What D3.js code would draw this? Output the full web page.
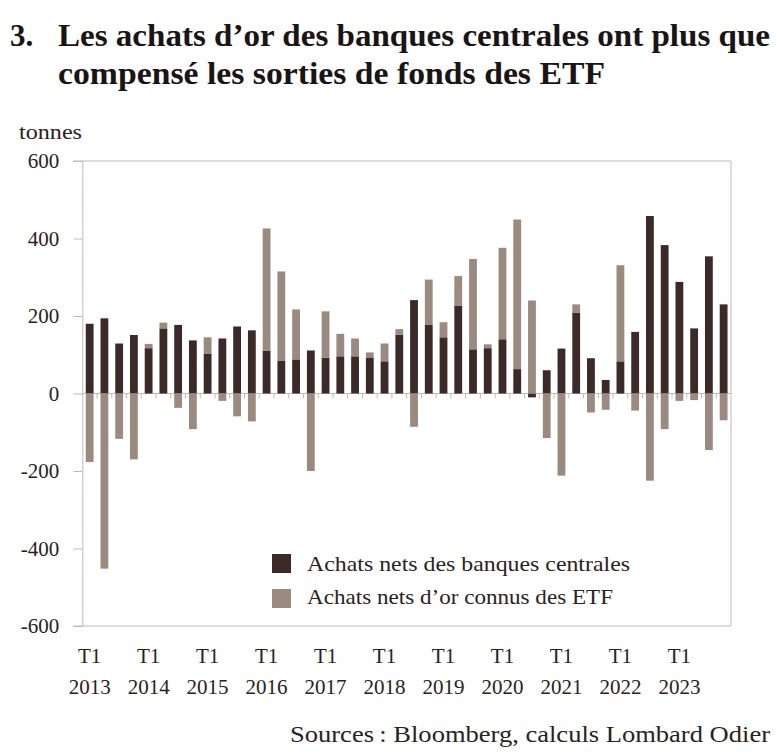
<!DOCTYPE html>
<html><head><meta charset="utf-8">
<script src="https://cdn.jsdelivr.net/npm/d3@7"></script>
<style>body{margin:0;background:#fff;}svg{display:block;}</style>
</head><body>
<svg id="c" width="777" height="756"></svg>
<script>
const years = ["2013","2014","2015","2016","2017","2018","2019","2020","2021","2022","2023"];
const quarters = years.flatMap(y => ["T1","T2","T3","T4"].map(q => q + " " + y));
const centralBanks = [180,194,129,151, 117,168,177,137, 102,142,173,163, 110,84,88,111,
  92,96,96,93, 83,152,241,178, 145,227,114,117, 140,63,-10,60,
  116,209,91,35, 83,159,458,383, 288,168,354,230];
const etf = [-177,-452,-117,-170, 11,15,-37,-92, 43,-19,-59,-72, 316,231,129,-200,
  120,58,46,13, 46,14,-86,116, 39,76,233,10, 236,386,240,-115,
  -212,21,-49,-42, 248,-44,-225,-92, -19,-17,-146,-69];
const yTicks = [600,400,200,0,-200,-400,-600];
const seriesNames = ["Achats nets des banques centrales","Achats nets d\u2019or connus des ETF"];
const colors = ["#3b2a28","#9a8a80"];

const svg = d3.select("#c");
const serif = "'Liberation Serif', 'DejaVu Serif', serif";
const L = 82.3, R = 731, T = 161, B = 626;
const x = d3.scaleBand().domain(quarters).range([L, R]).paddingInner(0.47).paddingOuter(0.235);
const y = d3.scaleLinear().domain([-600, 600]).range([B, T]);
const axisCol = "#c4b8ba";
const txtCol = "#2a2222";

// Title
const title = svg.append("g").attr("font-family", serif).attr("font-weight", "bold").attr("fill", "#1a1414");
title.append("text").attr("x", 10).attr("y", 46).attr("font-size", 31).text("3.");
title.append("text").attr("x", 58).attr("y", 46).attr("font-size", 31)
  .attr("textLength", 712).attr("lengthAdjust", "spacingAndGlyphs")
  .text("Les achats d\u2019or des banques centrales ont plus que");
title.append("text").attr("x", 58).attr("y", 84).attr("font-size", 31)
  .attr("textLength", 547).attr("lengthAdjust", "spacingAndGlyphs")
  .text("compensé les sorties de fonds des ETF");

svg.append("text").attr("x", 19).attr("y", 139).attr("font-family", serif)
  .attr("font-size", 21).attr("fill", txtCol)
  .attr("textLength", 63).attr("lengthAdjust", "spacingAndGlyphs").text("tonnes");

// frame
svg.append("line").attr("x1", 73).attr("x2", R).attr("y1", y(600)).attr("y2", y(600)).attr("stroke", axisCol);
svg.append("line").attr("x1", 73).attr("x2", R).attr("y1", y(-600)).attr("y2", y(-600)).attr("stroke", axisCol);
svg.append("line").attr("x1", R).attr("x2", R).attr("y1", T).attr("y2", B).attr("stroke", axisCol);

// y axis
const yAxis = d3.axisLeft(y).tickValues(yTicks).tickSize(9).tickPadding(14).tickFormat(d3.format("d"));
const ya = svg.append("g").attr("transform", `translate(${L},0)`).call(yAxis);
ya.select(".domain").attr("stroke", axisCol);
ya.selectAll(".tick line").attr("stroke", axisCol);
ya.selectAll(".tick text").attr("font-family", serif).attr("font-size", 21).attr("fill", txtCol)
  .text(d => d < 0 ? "-" + Math.abs(d) : d);

// zero line with ticks
svg.append("line").attr("x1", L).attr("x2", R).attr("y1", y(0)).attr("y2", y(0)).attr("stroke", axisCol);
svg.append("g").selectAll("line").data(quarters.slice(1)).join("line")
  .attr("x1", d => x(d) - x.step() * x.paddingInner() / 2)
  .attr("x2", d => x(d) - x.step() * x.paddingInner() / 2)
  .attr("y1", y(0)).attr("y2", y(0) + 5).attr("stroke", axisCol);

// bars
const data = quarters.map((q, i) => ({q, cb: centralBanks[i], etf: etf[i]}));
const segs = [];
data.forEach(d => {
  segs.push({q: d.q, s: 0, y0: 0, y1: d.cb});
  const posBase = Math.max(0, d.cb), negBase = Math.min(0, d.cb);
  if (d.etf >= 0) segs.push({q: d.q, s: 1, y0: posBase, y1: posBase + d.etf});
  else segs.push({q: d.q, s: 1, y0: negBase, y1: negBase + d.etf});
});
svg.append("g").selectAll("rect").data(segs).join("rect")
  .attr("x", d => x(d.q)).attr("width", x.bandwidth())
  .attr("y", d => y(Math.max(d.y0, d.y1)))
  .attr("height", d => Math.abs(y(d.y0) - y(d.y1)))
  .attr("fill", d => colors[d.s]);

// x labels
const xl = svg.append("g").attr("font-family", serif).attr("font-size", 21).attr("fill", txtCol).attr("text-anchor", "middle");
years.forEach(yr => {
  const cx = x("T1 " + yr) + x.bandwidth() / 2;
  xl.append("text").attr("x", cx).attr("y", 663).text("T1");
  xl.append("text").attr("x", cx).attr("y", 694).text(yr);
});

// legend
const lg = svg.append("g").attr("font-family", serif).attr("font-size", 22).attr("fill", txtCol);
const legendW = [323, 306];
seriesNames.forEach((n, i) => {
  lg.append("rect").attr("x", 272).attr("y", 554 + i * 35).attr("width", 19).attr("height", 19).attr("fill", colors[i]);
  lg.append("text").attr("x", 307).attr("y", 571 + i * 33)
    .attr("textLength", legendW[i]).attr("lengthAdjust", "spacingAndGlyphs").text(n);
});

svg.append("text").attr("x", 290).attr("y", 742).attr("font-family", serif)
  .attr("font-size", 24).attr("fill", txtCol)
  .attr("textLength", 480).attr("lengthAdjust", "spacingAndGlyphs")
  .text("Sources\u202f: Bloomberg, calculs Lombard Odier");
</script>
</body></html>
